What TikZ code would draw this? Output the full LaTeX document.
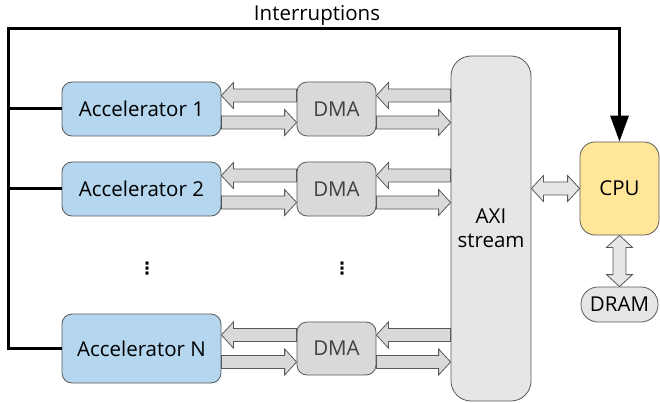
\documentclass[tikz,border=0pt]{standalone}
\usepackage{fontspec}
\setmainfont{Open Sans}
\newfontfamily\dotsfont{DejaVu Sans}
\usetikzlibrary{arrows.meta,calc}
\definecolor{accblue}{RGB}{180,214,239}
\definecolor{dmagray}{RGB}{217,217,217}
\definecolor{axigray}{RGB}{230,230,230}
\definecolor{cpuyellow}{RGB}{255,230,153}
\definecolor{edgegray}{RGB}{89,89,89}
\definecolor{dimtext}{RGB}{64,64,64}

\begin{document}
\begin{tikzpicture}[x=1pt, y=-1pt, font=\fontsize{20.5}{24}\selectfont,
  blk/.style={draw=edgegray, line width=0.8pt, inner sep=0pt, rounded corners=10pt},
  acc/.style={blk, fill=accblue, minimum width=159pt, minimum height=54pt},
  dma/.style={blk, fill=dmagray, text=dimtext, minimum width=79pt, minimum height=54pt},
  dots/.style={font=\dotsfont\bfseries\fontsize{17}{17}\selectfont, inner sep=0pt},
  irq/.style={line width=3pt},
  fatarrow/.style={draw=edgegray, fill=dmagray, line width=0.8pt, to path={
    let \p1=(\tikztostart), \p2=(\tikztotarget),
        \n1={veclen(\x2-\x1,\y2-\y1)}, \n2={(\x2-\x1)/\n1}, \n3={(\y2-\y1)/\n1} in
    ({\x1-6.5*\n3},{\y1+6.5*\n2}) -- ({\x2-12*\n2-6.5*\n3},{\y2-12*\n3+6.5*\n2})
    -- ({\x2-12*\n2-13*\n3},{\y2-12*\n3+13*\n2}) -- (\p2)
    -- ({\x2-12*\n2+13*\n3},{\y2-12*\n3-13*\n2}) -- ({\x2-12*\n2+6.5*\n3},{\y2-12*\n3-6.5*\n2})
    -- ({\x1+6.5*\n3},{\y1-6.5*\n2}) -- cycle}},
  fatboth/.style={draw=edgegray, fill=axigray, line width=0.8pt, to path={
    let \p1=(\tikztostart), \p2=(\tikztotarget),
        \n1={veclen(\x2-\x1,\y2-\y1)}, \n2={(\x2-\x1)/\n1}, \n3={(\y2-\y1)/\n1} in
    ({\x1+12*\n2-6.5*\n3},{\y1+12*\n3+6.5*\n2}) -- ({\x2-12*\n2-6.5*\n3},{\y2-12*\n3+6.5*\n2})
    -- ({\x2-12*\n2-13*\n3},{\y2-12*\n3+13*\n2}) -- (\p2)
    -- ({\x2-12*\n2+13*\n3},{\y2-12*\n3-13*\n2}) -- ({\x2-12*\n2+6.5*\n3},{\y2-12*\n3-6.5*\n2})
    -- ({\x1+12*\n2+6.5*\n3},{\y1+12*\n3-6.5*\n2}) -- ({\x1+12*\n2+13*\n3},{\y1+12*\n3-13*\n2})
    -- (\p1) -- ({\x1+12*\n2-13*\n3},{\y1+12*\n3+13*\n2}) -- cycle}}]
\useasboundingbox (0,0) rectangle (660,403);
% blocks
\node[acc] (acc1) at (141.5,109)   {Accelerator 1};
\node[acc] (acc2) at (141.5,189)   {Accelerator 2};
\node[acc, minimum height=69pt] (accN) at (141.5,348.5) {Accelerator N};
\node[dma] (dma1) at (336.5,109)   {DMA};
\node[dma] (dma2) at (336.5,189)   {DMA};
\node[dma, minimum height=53pt] (dmaN) at (336.5,348.5) {DMA};
\node[blk, fill=axigray, rounded corners=20pt, minimum width=80pt, minimum height=345pt,
      align=center] (axi) at (491,228.5) {AXI\\stream};
\node[blk, fill=cpuyellow, rounded corners=15pt, minimum width=79pt, minimum height=93pt]
      (cpu) at (619.5,188.5) {CPU};
\node[blk, fill=axigray, rounded corners=17pt, minimum width=77pt, minimum height=35pt]
      (dram) at (619.5,304.5) {DRAM};
\node[dots] (vdotsacc) at (147,269) {⋮};
\node[dots] (vdotsdma) at (342,269) {⋮};
% interrupt lines
\coordinate (bus) at (8,29);
\node (irqlabel) at (317,15) {Interruptions};
\draw[irq, -{Triangle[length=26pt, width=18pt]}] (accN.west) -| (bus) -| (cpu.north);
\draw[irq] (acc1.west) -- (acc1.west -| bus);
\draw[irq] (acc2.west) -- (acc2.west -| bus);
% data paths
\foreach \r in {1,2,N} {
  \draw[fatarrow] ([yshift=13.5pt]dma\r.west) to ([yshift=13.5pt]acc\r.east);
  \draw[fatarrow] ([yshift=-13.5pt]acc\r.east) to ([yshift=-13.5pt]dma\r.west);
  \draw[fatarrow] ([yshift=13.5pt]axi.west |- dma\r.east) to ([yshift=13.5pt]dma\r.east);
  \draw[fatarrow] ([yshift=-13.5pt]dma\r.east) to ([yshift=-13.5pt]axi.west |- dma\r.east);
}
\draw[fatboth] (axi.east |- cpu.west) to (cpu.west);
\draw[fatboth] (cpu.south) to (dram.north);
\end{tikzpicture}
\end{document}
